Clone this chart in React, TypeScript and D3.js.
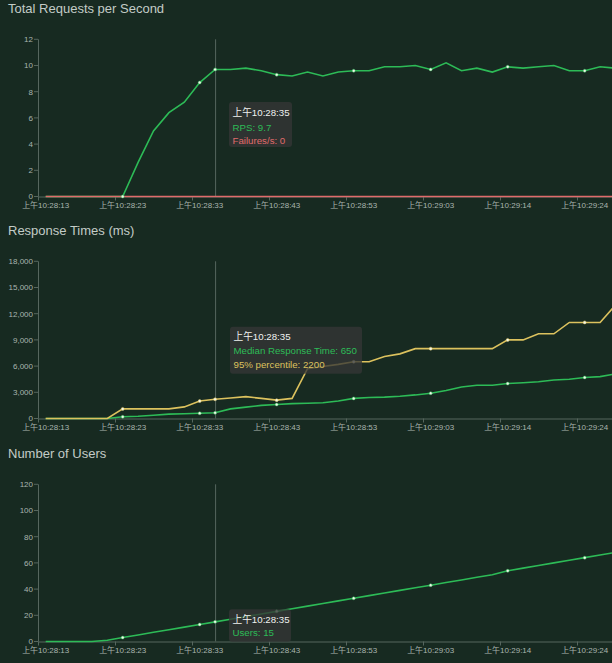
import React from "react";
import * as d3 from "d3";

const times = [
  "10:28:13","10:28:15","10:28:17","10:28:19","10:28:21","10:28:23","10:28:25","10:28:27","10:28:29","10:28:31",
  "10:28:33","10:28:35","10:28:37","10:28:39","10:28:41","10:28:43","10:28:45","10:28:47","10:28:49","10:28:51",
  "10:28:53","10:28:55","10:28:57","10:28:59","10:29:01","10:29:03","10:29:05","10:29:07","10:29:09","10:29:11",
  "10:29:14","10:29:16","10:29:18","10:29:20","10:29:22","10:29:24","10:29:26","10:29:28",
];
const categories = times.map((t) => "上午" + t);

const rps = [0,0,0,0,0,0,2.6,5.0,6.4,7.2,8.7,9.7,9.7,9.8,9.6,9.3,9.2,9.5,9.2,9.5,9.6,9.6,9.9,9.9,10.0,9.7,10.2,9.6,9.8,9.5,9.9,9.8,9.9,10.0,9.6,9.6,9.9,9.8];
const failures = [0,0,0,0,0,0,0,0,0,0,0,0,0,0,0,0,0,0,0,0,0,0,0,0,0,0,0,0,0,0,0,0,0,0,0,0,0,0];
const median = [0,0,0,0,0,200,250,380,500,550,600,650,1100,1300,1500,1600,1700,1750,1800,2000,2300,2400,2450,2550,2700,2900,3200,3600,3800,3800,4000,4100,4200,4400,4500,4700,4800,5100];
const p95 = [0,0,0,0,0,1100,1100,1100,1100,1330,2000,2200,2350,2500,2300,2100,2300,5700,5950,6200,6500,6500,7100,7400,8000,8000,8000,8000,8000,8000,9000,9000,9700,9700,11000,11000,11000,13000];
const users = [0,0,0,0,1,3,5,7,9,11,13,15,17,19,21,23,25,27,29,31,33,35,37,39,41,43,45,47,49,51,54,56,58,60,62,64,66,68];

const rpsTicks = [0, 2, 4, 6, 8, 10, 12];
const rtTicks = [0, 3000, 6000, 9000, 12000, 15000, 18000];
const userTicks = [0, 20, 40, 60, 80, 100, 120];

const hoverIndex = 11;
const labelEvery = 5;

const BG = "#172a21";
const GREEN = "#2dbb57";
const RED = "#e06b6b";
const YELLOW = "#dcc25e";
const AXIS = "#56665e";
const TEXT = "#a9b5af";
const FONT = "'Liberation Sans', Arial, 'Noto Sans CJK SC', sans-serif";

const W = 612;
const H = 663;
const PLOT_LEFT = 38;
const BAND = 15.4;
const PLOT_TOP = 39.3;
const PLOT_BOTTOM = 196.5;

const x = d3
  .scaleBand<string>()
  .domain(categories)
  .range([PLOT_LEFT, PLOT_LEFT + BAND * categories.length])
  .paddingInner(0)
  .paddingOuter(0);
const cx = (i: number) => (x(categories[i]) as number) + x.bandwidth() / 2;

type Series = { name: string; values: number[]; color: string; markers?: boolean };

type ChartProps = {
  top: number;
  title: string;
  ticks: number[];
  max: number;
  series: Series[];
  tickFormat: (v: number) => string;
  tip: { x: number; y: number; w: number; h: number; baselines: number[] };
};

function Chart({ top, title, ticks, max, series, tickFormat, tip }: ChartProps) {
  const y = d3.scaleLinear().domain([0, max]).range([PLOT_BOTTOM, PLOT_TOP]);
  const markerIdx = categories
    .map((_, i) => i)
    .filter((i) => (i % labelEvery === 0 && i > 0) || i === hoverIndex);
  const hx = cx(hoverIndex);
  return (
    <g transform={`translate(0,${top})`}>
      <text x={8} y={12.8} fill="#c3ccc7" fontSize={13} fontWeight={500} fontFamily={FONT}>
        {title}
      </text>
      {/* y axis */}
      <line x1={PLOT_LEFT + 0.5} x2={PLOT_LEFT + 0.5} y1={PLOT_TOP} y2={PLOT_BOTTOM} stroke={AXIS} />
      {ticks.map((t) => (
        <g key={t}>
          <line x1={PLOT_LEFT - 4} x2={PLOT_LEFT} y1={y(t)} y2={y(t)} stroke={AXIS} />
          <text
            x={PLOT_LEFT - 5}
            y={y(t)}
            dy="0.35em"
            textAnchor="end"
            fill={TEXT}
            fontSize={8}
            fontFamily={FONT}
          >
            {tickFormat(t)}
          </text>
        </g>
      ))}
      {/* x axis */}
      <line x1={PLOT_LEFT} x2={W} y1={PLOT_BOTTOM + 0.5} y2={PLOT_BOTTOM + 0.5} stroke={AXIS} />
      {categories.map((c, i) =>
        i % labelEvery === 0 ? (
          <g key={c}>
            <line
              x1={(x(c) as number) + 0.5}
              x2={(x(c) as number) + 0.5}
              y1={PLOT_BOTTOM}
              y2={PLOT_BOTTOM + 4}
              stroke={AXIS}
            />
            <text
              x={cx(i)}
              y={PLOT_BOTTOM + 11}
              textAnchor="middle"
              fill={TEXT}
              fontSize={8}
              fontFamily={FONT}
            >
              {c}
            </text>
          </g>
        ) : null
      )}
      {/* hover line */}
      <line x1={hx + 0.5} x2={hx + 0.5} y1={PLOT_TOP} y2={PLOT_BOTTOM} stroke={AXIS} strokeWidth={1} />
      {series.map((s) => {
        const line = d3
          .line<number>()
          .x((_, i) => cx(i))
          .y((v) => y(v));
        return (
          <path key={s.name} d={line(s.values) || ""} fill="none" stroke={s.color} strokeWidth={1.6} />
        );
      })}
      {series.map((s) =>
        s.markers === false
          ? null
          : markerIdx.map((i) => (
              <circle
                key={s.name + i}
                cx={cx(i)}
                cy={y(s.values[i])}
                r={1.5}
                fill="#f2f6ea"
                stroke={s.color}
                strokeWidth={0.5}
              />
            ))
      )}
      {/* tooltip */}
      <rect x={tip.x} y={tip.y} width={tip.w} height={tip.h} rx={3} fill="rgba(52,54,54,0.78)" />
      <text x={tip.x + 3.5} y={tip.baselines[0]} fill="#eef1ef" fontSize={9.7} fontFamily={FONT}>
        {categories[hoverIndex]}
      </text>
      {series.map((s, k) => (
        <text
          key={s.name}
          x={tip.x + 3.5}
          y={tip.baselines[k + 1]}
          fill={s.color}
          fontSize={9.7}
          fontFamily={FONT}
        >
          {`${s.name}: ${s.values[hoverIndex]}`}
        </text>
      ))}
    </g>
  );
}

export default function App() {
  const fmtComma = d3.format(",");
  return (
    <svg
      width={W}
      height={H}
      style={{ position: "absolute", left: 0, top: 0, display: "block", background: BG }}
    >
      <rect x={0} y={0} width={W} height={H} fill={BG} />
      <Chart
        top={0}
        title="Total Requests per Second"
        ticks={rpsTicks}
        max={12}
        tickFormat={(v) => String(v)}
        series={[
          { name: "RPS", values: rps, color: GREEN },
          { name: "Failures/s", values: failures, color: RED, markers: false },
        ]}
        tip={{ x: 229, y: 102, w: 63, h: 45, baselines: [116, 130.5, 144] }}
      />
      <Chart
        top={222}
        title="Response Times (ms)"
        ticks={rtTicks}
        max={18000}
        tickFormat={(v) => fmtComma(v)}
        series={[
          { name: "Median Response Time", values: median, color: GREEN },
          { name: "95% percentile", values: p95, color: YELLOW },
        ]}
        tip={{ x: 230, y: 104.7, w: 132, h: 47, baselines: [118, 132, 145.5] }}
      />
      <Chart
        top={445}
        title="Number of Users"
        ticks={userTicks}
        max={120}
        tickFormat={(v) => String(v)}
        series={[{ name: "Users", values: users, color: GREEN }]}
        tip={{ x: 229, y: 164.3, w: 62, h: 32.5, baselines: [177.5, 191] }}
      />
    </svg>
  );
}
